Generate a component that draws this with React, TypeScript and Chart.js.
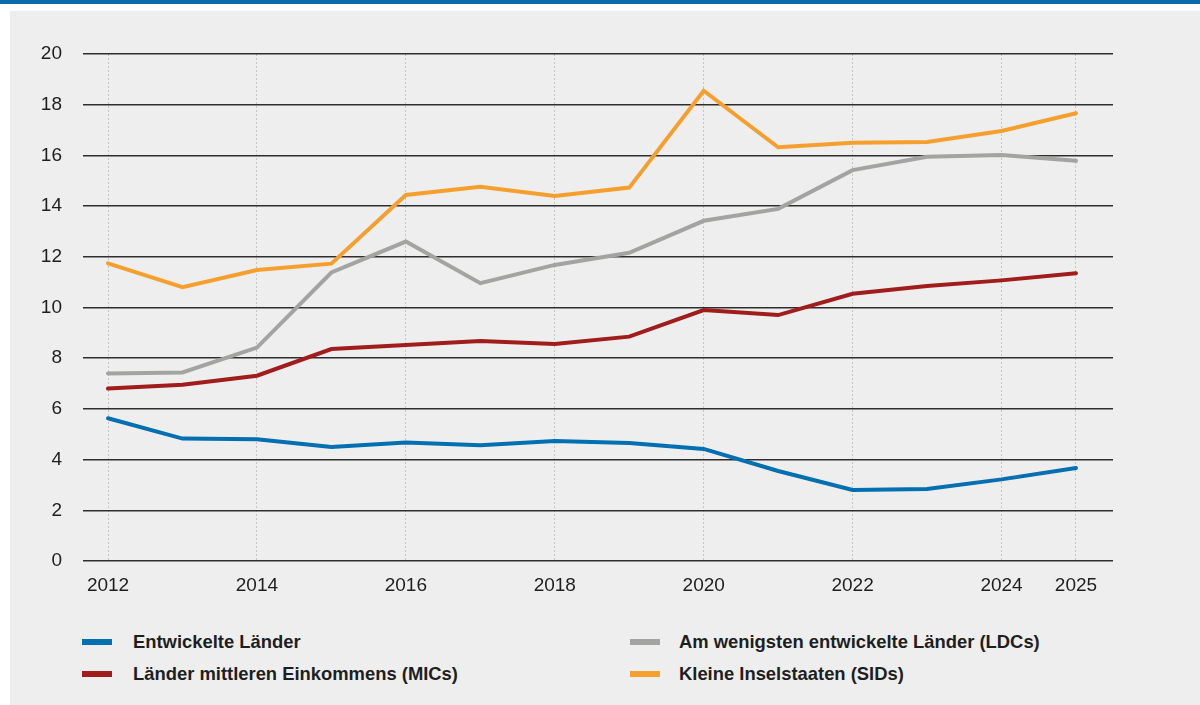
import React, { useEffect, useRef } from "react";
import { Chart, registerables } from "chart.js";

Chart.register(...registerables);

// ---- Data ----
const years = [2012, 2013, 2014, 2015, 2016, 2017, 2018, 2019, 2020, 2021, 2022, 2023, 2024, 2025];
const tickYears = [2012, 2014, 2016, 2018, 2020, 2022, 2024, 2025];
const yTickMin = 0;
const yTickMax = 20;
const yTickStep = 2;

const entwickelteLaender = [5.63, 4.83, 4.8, 4.5, 4.67, 4.57, 4.73, 4.65, 4.42, 3.55, 2.8, 2.84, 3.22, 3.67];
const mics = [6.8, 6.95, 7.31, 8.36, 8.52, 8.68, 8.56, 8.85, 9.9, 9.7, 10.54, 10.85, 11.07, 11.35];
const ldcs = [7.4, 7.44, 8.42, 11.38, 12.6, 10.96, 11.68, 12.16, 13.42, 13.89, 15.42, 15.95, 16.02, 15.79];
const sids = [11.74, 10.8, 11.48, 11.73, 14.44, 14.76, 14.4, 14.73, 18.55, 16.32, 16.5, 16.53, 16.96, 17.66];

const seriesLabels = [
  "Entwickelte Länder",
  "Länder mittleren Einkommens (MICs)",
  "Am wenigsten entwickelte Länder (LDCs)",
  "Kleine Inselstaaten (SIDs)",
];
const seriesColors = ["#0070b0", "#a11c1c", "#a3a3a1", "#f5a02e"];
const seriesValues = [entwickelteLaender, mics, ldcs, sids];

const FONT = '"Liberation Sans", Arial, "DejaVu Sans", sans-serif';

export default function App() {
  const canvasRef = useRef<HTMLCanvasElement | null>(null);

  useEffect(() => {
    document.body.style.margin = "0";
    const canvas = canvasRef.current;
    if (!canvas) return;

    const datasets = seriesValues.map((vals, i) => ({
      label: seriesLabels[i],
      data: vals.map((v, j) => ({ x: years[j], y: v })),
      borderColor: seriesColors[i],
      backgroundColor: seriesColors[i],
      borderWidth: 4,
      pointRadius: 0,
      pointHoverRadius: 0,
      tension: 0,
      fill: false,
      borderJoinStyle: "miter" as const,
      borderCapStyle: "round" as const,
    }));
    const chart = new Chart(canvas, {
      type: "line",
      data: { datasets },
      options: {
        animation: false,
        responsive: false,
        maintainAspectRatio: false,
        devicePixelRatio: 1,
        layout: { padding: { left: 0, right: 87, top: 43, bottom: 15 } },
        plugins: {
          legend: { display: false },
          tooltip: { enabled: false },
        },
        scales: {
          x: {
            type: "linear",
            min: 2011.664,
            max: 2025.497,
            afterBuildTicks: (scale: any) => {
              scale.ticks = tickYears.map((v) => ({ value: v }));
            },
            afterFit: (scale: any) => {
              scale.height = 35;
            },
            ticks: {
              autoSkip: false,
              maxRotation: 0,
              padding: 13,
              color: "#1e1e1e",
              font: { family: FONT, size: 19 },
              callback: (v: any) => String(v),
            },
            grid: {
              color: "#c4c4c4",
              lineWidth: 1,
              drawTicks: false,
            },
            border: { display: false, dash: [2, 2] },
          },
          y: {
            min: yTickMin,
            max: yTickMax,
            afterFit: (scale: any) => {
              scale.width = 73;
            },
            ticks: {
              stepSize: yTickStep,
              padding: 21,
              color: "#1e1e1e",
              font: { family: FONT, size: 19 },
            },
            grid: {
              color: "#2e2e2e",
              lineWidth: 1.6,
              drawTicks: false,
            },
            border: { display: false },
          },
        },
      },
    });
    return () => chart.destroy();
  }, []);

  const legendRows = [
    [0, 2],
    [1, 3],
  ];
  const colX = [82, 630];
  const textX = [133, 679];
  const rowY = [642, 674];

  return (
    <div style={{ position: "relative", width: 1200, height: 705, background: "#ffffff", overflow: "hidden" }}>
      <div style={{ position: "absolute", left: 0, top: 0, width: 1200, height: 4, background: "#0a69a8" }} />
      <div style={{ position: "absolute", left: 10, top: 11, width: 1190, height: 694, background: "#eeeeee" }} />
      <canvas
        ref={canvasRef}
        width={1190}
        height={600}
        style={{ position: "absolute", left: 10, top: 11, width: 1190, height: 600 }}
      />
      {legendRows.map((row, r) =>
        row.map((si, c) => (
          <React.Fragment key={`${r}-${c}`}>
            <div
              style={{
                position: "absolute",
                left: colX[c],
                top: rowY[r] - 3,
                width: 30,
                height: 6,
                background: seriesColors[si],
              }}
            />
            <div
              style={{
                position: "absolute",
                left: textX[c],
                top: rowY[r] - 12,
                height: 24,
                lineHeight: "24px",
                fontFamily: FONT,
                fontWeight: 700,
                fontSize: 18.4,
                color: "#1e1e1e",
                whiteSpace: "nowrap",
              }}
            >
              {seriesLabels[si]}
            </div>
          </React.Fragment>
        ))
      )}
    </div>
  );
}
